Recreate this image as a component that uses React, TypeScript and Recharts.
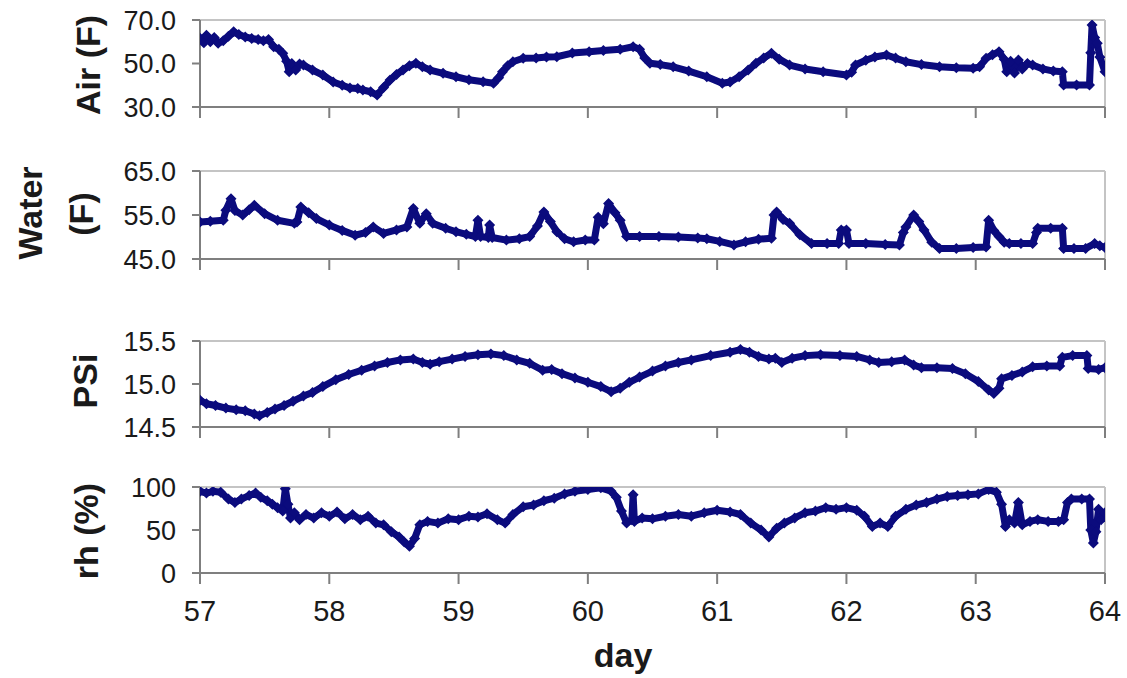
import { LineChart, Line, XAxis, YAxis, ReferenceLine } from 'recharts';

const NAVY = '#0b0b7d';
const AXIS = '#7f7f7f';
const BORDER = '#c4c4c4';
const FONT = '"Liberation Sans", Arial, sans-serif';

const dayTicks = [57, 58, 59, 60, 61, 62, 63, 64];
const airTicks = [30, 50, 70];
const waterTicks = [45, 55, 65];
const psiTicks = [14.5, 15.0, 15.5];
const rhTicks = [0, 50, 100];

// [day, value]
const airReadings = [
  [57.0, 61.6], [57.03, 59.5], [57.05, 63.0], [57.08, 60.0], [57.11, 62.0], [57.14, 59.3],
  [57.18, 60.5], [57.22, 62.5], [57.26, 64.6], [57.3, 63.3], [57.35, 62.2], [57.4, 61.5],
  [57.45, 61.0], [57.49, 60.5], [57.53, 61.0], [57.57, 57.7], [57.61, 56.5], [57.64, 54.7],
  [57.67, 51.0], [57.69, 46.2], [57.71, 50.0], [57.74, 47.0], [57.77, 49.8], [57.8, 49.3],
  [57.87, 47.0], [57.95, 44.7], [58.03, 41.5], [58.1, 40.0], [58.16, 38.7], [58.22, 38.5],
  [58.26, 37.8], [58.32, 37.0], [58.37, 35.5], [58.42, 39.0], [58.47, 42.4], [58.52, 45.0],
  [58.57, 47.0], [58.62, 49.0], [58.67, 50.1], [58.72, 48.5], [58.78, 47.0], [58.88, 45.5],
  [58.98, 43.9], [59.08, 42.5], [59.19, 41.6], [59.27, 40.9], [59.31, 43.5], [59.34, 46.2],
  [59.38, 49.0], [59.42, 50.8], [59.5, 52.4], [59.6, 52.5], [59.68, 53.0], [59.76, 53.1],
  [59.88, 54.8], [60.01, 55.4], [60.12, 56.0], [60.25, 56.5], [60.35, 57.7], [60.4, 56.5],
  [60.44, 52.5], [60.48, 50.1], [60.56, 49.5], [60.66, 48.5], [60.78, 46.5], [60.92, 43.9],
  [61.04, 40.9], [61.1, 41.5], [61.17, 43.9], [61.24, 47.0], [61.3, 50.1], [61.36, 52.5],
  [61.42, 54.7], [61.48, 52.0], [61.56, 49.3], [61.68, 47.5], [61.82, 46.2], [62.0, 44.7],
  [62.04, 46.0], [62.07, 49.3], [62.15, 51.5], [62.22, 53.0], [62.31, 53.9], [62.38, 52.5],
  [62.46, 50.8], [62.58, 49.5], [62.72, 48.5], [62.85, 48.0], [62.98, 47.8], [63.03, 48.5],
  [63.08, 52.4], [63.13, 54.0], [63.18, 55.4], [63.22, 52.0], [63.24, 46.2], [63.27, 51.0],
  [63.3, 45.6], [63.33, 51.6], [63.36, 47.5], [63.4, 50.0], [63.44, 49.3], [63.52, 47.5],
  [63.6, 46.5], [63.67, 46.2], [63.68, 40.1], [63.78, 40.1], [63.88, 40.1], [63.89, 55.0],
  [63.9, 67.7], [63.92, 62.0], [63.94, 59.3], [63.96, 53.0], [64.0, 46.2],
];

const waterReadings = [
  [57.0, 53.4], [57.08, 53.6], [57.18, 53.8], [57.2, 56.1], [57.24, 58.7], [57.27, 56.0],
  [57.33, 55.0], [57.38, 56.2], [57.42, 57.2], [57.5, 55.3], [57.6, 53.8], [57.73, 53.1],
  [57.75, 53.4], [57.78, 56.8], [57.84, 55.5], [57.9, 54.2], [58.0, 52.7], [58.1, 51.5],
  [58.2, 50.4], [58.28, 51.0], [58.34, 52.3], [58.42, 50.8], [58.52, 51.6], [58.6, 52.3],
  [58.65, 56.5], [58.7, 53.1], [58.75, 55.3], [58.8, 53.1], [58.9, 52.0], [58.98, 51.2],
  [59.06, 50.6], [59.13, 50.1], [59.15, 53.8], [59.17, 50.1], [59.23, 49.9], [59.24, 52.7],
  [59.26, 49.9], [59.37, 49.3], [59.47, 49.6], [59.55, 50.1], [59.61, 52.5], [59.66, 55.7],
  [59.71, 53.5], [59.76, 51.2], [59.82, 49.6], [59.89, 48.9], [59.98, 49.3], [60.05, 49.3],
  [60.08, 54.5], [60.12, 53.0], [60.16, 57.6], [60.21, 55.5], [60.25, 53.8], [60.3, 50.1],
  [60.4, 50.1], [60.55, 50.1], [60.7, 50.0], [60.85, 49.8], [60.92, 49.6], [61.02, 49.0],
  [61.13, 48.2], [61.22, 48.9], [61.32, 49.5], [61.42, 49.7], [61.44, 55.0], [61.46, 55.7],
  [61.51, 54.0], [61.56, 53.1], [61.64, 50.5], [61.73, 48.5], [61.85, 48.5], [61.94, 48.5],
  [61.96, 51.6], [62.0, 51.6], [62.02, 48.5], [62.15, 48.5], [62.3, 48.3], [62.41, 48.2],
  [62.44, 51.0], [62.46, 52.3], [62.52, 55.0], [62.56, 53.5], [62.6, 51.6], [62.66, 48.8],
  [62.72, 47.4], [62.85, 47.4], [62.98, 47.6], [63.08, 47.7], [63.1, 53.8], [63.14, 51.5],
  [63.18, 50.1], [63.22, 48.8], [63.26, 48.5], [63.35, 48.5], [63.44, 48.5], [63.47, 51.0],
  [63.48, 52.0], [63.58, 52.0], [63.67, 52.0], [63.68, 47.4], [63.76, 47.4], [63.85, 47.4],
  [63.92, 48.5], [63.96, 48.0], [64.0, 47.6],
];

const psiReadings = [
  [57.0, 14.81], [57.05, 14.77], [57.12, 14.75], [57.2, 14.72], [57.28, 14.7], [57.35, 14.69],
  [57.42, 14.65], [57.46, 14.63], [57.52, 14.67], [57.58, 14.71], [57.65, 14.75], [57.72, 14.8],
  [57.8, 14.86], [57.87, 14.9], [57.95, 14.97], [58.05, 15.05], [58.15, 15.11], [58.25, 15.16],
  [58.35, 15.21], [58.45, 15.25], [58.55, 15.28], [58.65, 15.29], [58.72, 15.25], [58.78, 15.23],
  [58.85, 15.26], [58.95, 15.29], [59.05, 15.32], [59.15, 15.34], [59.25, 15.35], [59.35, 15.33],
  [59.45, 15.28], [59.55, 15.24], [59.65, 15.16], [59.72, 15.17], [59.8, 15.12], [59.9, 15.07],
  [60.0, 15.02], [60.1, 14.97], [60.18, 14.91], [60.25, 14.95], [60.32, 15.02], [60.4, 15.08],
  [60.5, 15.15], [60.6, 15.21], [60.7, 15.25], [60.8, 15.28], [60.95, 15.33], [61.1, 15.37],
  [61.18, 15.4], [61.25, 15.37], [61.32, 15.32], [61.4, 15.29], [61.45, 15.3], [61.5, 15.25],
  [61.58, 15.3], [61.68, 15.33], [61.8, 15.34], [61.95, 15.33], [62.08, 15.32], [62.18, 15.28],
  [62.25, 15.25], [62.35, 15.26], [62.45, 15.28], [62.52, 15.22], [62.58, 15.19], [62.7, 15.19],
  [62.82, 15.18], [62.92, 15.12], [63.02, 15.03], [63.1, 14.93], [63.14, 14.89], [63.18, 14.95],
  [63.2, 15.06], [63.28, 15.1], [63.36, 15.14], [63.44, 15.2], [63.55, 15.21], [63.65, 15.21],
  [63.67, 15.31], [63.75, 15.33], [63.86, 15.33], [63.87, 15.18], [63.95, 15.17], [64.0, 15.19],
];

const rhReadings = [
  [57.0, 95], [57.05, 93], [57.1, 95], [57.16, 94], [57.22, 86], [57.27, 82], [57.32, 86],
  [57.38, 90], [57.43, 93], [57.47, 88], [57.52, 84], [57.56, 80], [57.6, 76], [57.64, 72],
  [57.66, 98], [57.68, 80], [57.7, 64], [57.73, 70], [57.77, 62], [57.82, 68], [57.88, 64],
  [57.94, 70], [58.0, 66], [58.06, 71], [58.12, 63], [58.18, 68], [58.24, 62], [58.3, 66],
  [58.36, 58], [58.42, 56], [58.48, 48], [58.54, 42], [58.58, 36], [58.62, 31], [58.66, 40],
  [58.7, 56], [58.76, 60], [58.84, 58], [58.92, 63], [59.0, 62], [59.08, 66], [59.15, 65],
  [59.22, 69], [59.3, 62], [59.36, 58], [59.42, 68], [59.5, 77], [59.58, 79], [59.66, 84],
  [59.74, 87], [59.82, 92], [59.9, 95], [60.0, 97], [60.1, 99], [60.18, 95], [60.22, 88],
  [60.26, 72], [60.3, 58], [60.34, 62], [60.35, 91], [60.36, 60], [60.42, 64], [60.5, 63],
  [60.6, 66], [60.7, 68], [60.8, 66], [60.9, 70], [61.0, 73], [61.1, 71], [61.18, 68],
  [61.26, 58], [61.34, 50], [61.4, 42], [61.46, 52], [61.52, 58], [61.6, 64], [61.68, 70],
  [61.76, 72], [61.84, 76], [61.92, 74], [62.0, 76], [62.08, 73], [62.14, 66], [62.2, 54],
  [62.26, 58], [62.32, 54], [62.38, 66], [62.46, 74], [62.54, 79], [62.62, 82], [62.7, 86],
  [62.78, 89], [62.86, 90], [62.94, 91], [63.02, 92], [63.1, 97], [63.16, 94], [63.2, 80],
  [63.23, 54], [63.26, 62], [63.3, 58], [63.33, 82], [63.36, 56], [63.42, 60], [63.48, 62],
  [63.56, 60], [63.64, 60], [63.68, 62], [63.71, 82], [63.74, 86], [63.82, 86], [63.88, 86],
  [63.89, 50], [63.91, 35], [63.93, 48], [63.95, 74], [63.97, 62], [64.0, 70],
];

function Diamond(props: any) {
  const { cx, cy, index } = props;
  if (cx == null || cy == null) return <g key={index} />;
  const r = 5.5;
  return (
    <polygon
      key={index}
      points={`${cx},${cy - r} ${cx + r},${cy} ${cx},${cy + r} ${cx - r},${cy}`}
      fill={NAVY}
      stroke="none"
    />
  );
}

function Panel({
  readings, domain, ticks, digits, plotTop, plotHeight, bottom = false,
}: {
  readings: number[][];
  domain: [number, number];
  ticks: number[];
  digits: number;
  plotTop: number;
  plotHeight: number;
  bottom?: boolean;
}) {
  const data = readings.map(([day, value]) => ({ day, value }));
  const mt = 20;
  const xh = bottom ? 70 : 22;
  return (
    <div style={{ position: 'absolute', left: 0, top: plotTop - mt }}>
      <LineChart
        width={1127}
        height={mt + plotHeight + xh}
        data={data}
        margin={{ top: mt, right: 22, bottom: 0, left: 0 }}
      >
        <XAxis
          type="number"
          dataKey="day"
          domain={[57, 64]}
          ticks={dayTicks}
          interval={0}
          height={xh}
          tickSize={11}
          tickMargin={16}
          axisLine={{ stroke: AXIS, strokeWidth: 2 }}
          tickLine={{ stroke: AXIS, strokeWidth: 2 }}
          tickFormatter={(v) => (bottom ? String(v) : '')}
          tick={{ fontSize: 29, fill: '#1a1a1a', fontFamily: FONT }}
          allowDataOverflow
        />
        <YAxis
          type="number"
          domain={domain}
          ticks={ticks}
          interval={0}
          width={200}
          tickSize={8}
          tickMargin={16}
          axisLine={{ stroke: AXIS, strokeWidth: 2 }}
          tickLine={{ stroke: AXIS, strokeWidth: 2 }}
          tickFormatter={(v) => Number(v).toFixed(digits)}
          tick={{ fontSize: 27, fill: '#1a1a1a', fontFamily: FONT }}
          allowDataOverflow
        />
        <ReferenceLine y={domain[1]} stroke={BORDER} strokeWidth={2} />
        <ReferenceLine x={64} stroke={BORDER} strokeWidth={2} />
        <Line
          type="linear"
          dataKey="value"
          stroke={NAVY}
          strokeWidth={7}
          strokeLinejoin="round"
          strokeLinecap="round"
          dot={Diamond}
          activeDot={false}
          isAnimationActive={false}
        />
      </LineChart>
    </div>
  );
}

const labelStyle = (cx: number, cy: number, size: number, rotate: boolean): React.CSSProperties => ({
  position: 'absolute',
  left: cx,
  top: cy,
  transform: `translate(-50%, -50%)${rotate ? ' rotate(-90deg)' : ''}`,
  whiteSpace: 'nowrap',
  fontFamily: FONT,
  fontWeight: 'bold',
  fontSize: size,
  lineHeight: 1,
  color: '#1a1a1a',
});

export default function App() {
  return (
    <div style={{ position: 'absolute', left: 0, top: 0, width: 1127, height: 678, background: '#fff', overflow: 'hidden' }}>
      <Panel readings={airReadings} domain={[30, 70]} ticks={airTicks} digits={1} plotTop={20} plotHeight={87} />
      <Panel readings={waterReadings} domain={[45, 65]} ticks={waterTicks} digits={1} plotTop={171} plotHeight={88} />
      <Panel readings={psiReadings} domain={[14.5, 15.5]} ticks={psiTicks} digits={1} plotTop={341} plotHeight={86} />
      <Panel readings={rhReadings} domain={[0, 100]} ticks={rhTicks} digits={0} plotTop={487} plotHeight={86} bottom />
      <div style={labelStyle(88, 65, 34, true)}>Air (F)</div>
      <div style={labelStyle(30, 213, 34, true)}>Water</div>
      <div style={labelStyle(81, 214, 34, true)}>(F)</div>
      <div style={labelStyle(85, 381, 34, true)}>PSi</div>
      <div style={labelStyle(86, 531, 34, true)}>rh (%)</div>
      <div style={labelStyle(623, 655, 34, false)}>day</div>
    </div>
  );
}
